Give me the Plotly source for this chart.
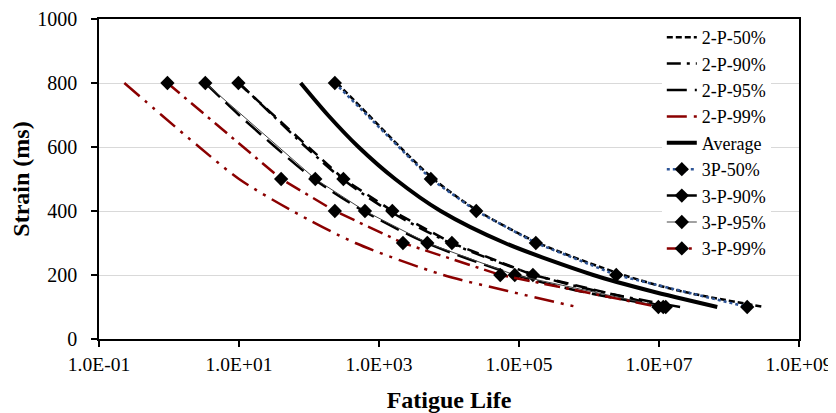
import plotly.graph_objects as go

# ---------------- data ----------------
# Strain levels (ms)
strain_2p = [800, 700, 600, 500, 400, 300, 200, 150, 100]
strain_3p = [800, 500, 400, 300, 200, 100]

# 2-parameter curves: fatigue life at each strain level
life_2p_50 = [2.5e2, 7.1e2, 2.0e3, 6.0e3, 2.6e4, 1.9e5, 3.1e6, 2.0e7, 3.2e8]
life_2p_90 = [1.0e1, 3.0e1, 9.0e1, 3.0e2, 1.4e3, 1.05e4, 1.7e5, 1.3e6, 2.0e7]
life_2p_95 = [3.3e0, 1.0e1, 3.3e1, 1.17e2, 6.0e2, 4.8e3, 8.9e4, 7.1e5, 1.25e7]
life_2p_99 = [2.3e-1, 7.8e-1, 2.7e0, 1.0e1, 5.8e1, 4.6e2, 8.3e3, 6.9e4, 6.8e5]
life_avg = [7.6e1, 1.86e2, 5.1e2, 1.7e3, 7.6e3, 6.3e4, 1.15e6, 7.6e6, 6.8e7]

# 3-parameter results (with markers)
life_3p_50 = [2.34e2, 5.5e3, 2.45e4, 1.74e5, 2.45e6, 1.82e8]
life_3p_90 = [9.8e0, 3.1e2, 1.55e3, 1.1e4, 1.58e5, 1.25e7]
life_3p_95 = [3.3e0, 1.23e2, 6.3e2, 4.9e3, 8.7e4, 1.15e7]
life_3p_99 = [9.5e-1, 4.0e1, 2.34e2, 2.2e3, 5.4e4, 9.8e6]

x_tickvals = [1e-1, 1e1, 1e3, 1e5, 1e7, 1e9]
x_ticktext = ["1.0E-01", "1.0E+01", "1.0E+03", "1.0E+05", "1.0E+07", "1.0E+09"]
y_tickvals = [0, 200, 400, 600, 800, 1000]

# ---------------- figure ----------------
DARKRED = "#8B0000"
BLUE = "#2E5597"
FONT = "Liberation Serif"

fig = go.Figure()


def curve(x, y, name, color, dash, width):
    fig.add_trace(go.Scatter(
        x=x, y=y, name=name, mode="lines",
        line=dict(color=color, dash=dash, width=width, shape="spline", smoothing=0.8),
    ))


def marked(x, y, name, color, dash, width):
    fig.add_trace(go.Scatter(
        x=x, y=y, name=name, mode="lines+markers",
        line=dict(color=color, dash=dash, width=width),
        marker=dict(symbol="diamond", size=11, color="black"),
    ))


curve(life_2p_50, strain_2p, "2-P-50%", "black", "6px,3px", 2.5)
curve(life_2p_90, strain_2p, "2-P-90%", "black", "14px,6px,3px,6px", 2.5)
curve(life_2p_95, strain_2p, "2-P-95%", "black", "20px,8px", 2.5)
curve(life_2p_99, strain_2p, "2-P-99%", DARKRED, "20px,7px,3px,7px,3px,7px", 2.5)
curve(life_avg, strain_2p, "Average", "black", "solid", 4)
marked(life_3p_50, strain_3p, "3P-50%", BLUE, "3px,3px", 2.5)
marked(life_3p_90, strain_3p, "3-P-90%", "black", "12px,7px", 2.5)
marked(life_3p_95, strain_3p, "3-P-95%", "#444444", "solid", 1)
marked(life_3p_99, strain_3p, "3-P-99%", DARKRED, "16px,6px,3px,6px", 2.5)

# the page body has an 8px margin, so the figure is made 8px smaller
fig.update_layout(
    width=828, height=405,
    margin=dict(l=91, r=37, t=11, b=74, autoexpand=False),
    paper_bgcolor="white", plot_bgcolor="white",
    font=dict(family=FONT, size=20, color="black"),
    showlegend=True,
    legend=dict(
        x=0.804, y=1.0, xanchor="left", yanchor="top",
        bgcolor="white", borderwidth=0,
        font=dict(family=FONT, size=18, color="black"),
        tracegroupgap=0,
    ),
    xaxis=dict(
        type="log", range=[-1, 9],
        tickvals=x_tickvals, ticktext=x_ticktext,
        showgrid=False, zeroline=False,
        showline=True, linecolor="black", linewidth=1.5, mirror=True,
        ticks="outside", ticklen=6, tickcolor="black", tickwidth=1.5,
        ticklabelstandoff=1, ticklabeloverflow="allow",
        tickfont=dict(family=FONT, size=19.5, color="black"),
        title=dict(text="<b>Fatigue Life</b>", font=dict(family=FONT, size=24, color="black"), standoff=17),
    ),
    # second x axis only draws the inner half of the crossing ticks
    xaxis2=dict(
        overlaying="x", anchor="y", side="bottom", type="log", range=[-1, 9],
        tickvals=x_tickvals, showticklabels=False, showgrid=False, zeroline=False,
        showline=False, ticks="inside", ticklen=6, tickcolor="black", tickwidth=1.5,
    ),
    yaxis=dict(
        range=[0, 1000], tickvals=y_tickvals,
        showgrid=True, gridcolor="#d9d9d9", gridwidth=1, zeroline=False,
        showline=True, linecolor="black", linewidth=1.5, mirror=True,
        ticks="outside", ticklen=6, tickcolor="black", tickwidth=1.5,
        ticklabelstandoff=10, ticklabeloverflow="allow",
        tickfont=dict(family=FONT, size=20, color="black"),
        title=dict(text="<b>Strain (ms)</b>", font=dict(family=FONT, size=24, color="black"), standoff=10),
    ),
)

fig.write_html("out.html")
